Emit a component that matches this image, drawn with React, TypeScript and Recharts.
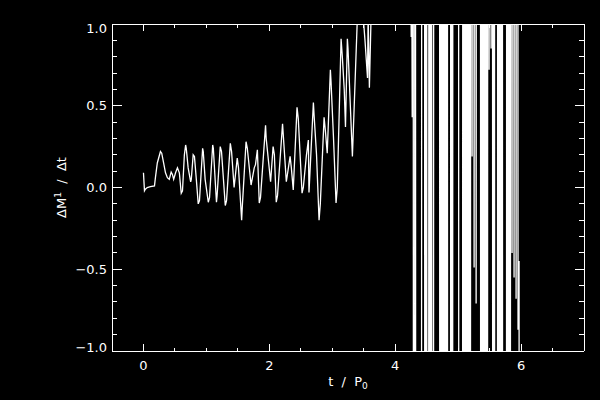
import { LineChart, Line, XAxis, YAxis } from "recharts";

// t / P0 and dM/dt for the smooth part of the run
const tEarly = [
  0, 0.016, 0.03, 0.06, 0.11, 0.175, 0.19, 0.22, 0.27, 0.29, 0.32, 0.35, 0.38,
  0.41, 0.44, 0.46, 0.48, 0.51, 0.54, 0.57, 0.6, 0.62, 0.65, 0.67, 0.68, 0.71,
  0.75, 0.76, 0.79, 0.81, 0.84, 0.87, 0.89, 0.94, 0.95, 0.98, 1.03, 1.05, 1.1,
  1.11, 1.16, 1.17, 1.22, 1.24, 1.3, 1.32, 1.38, 1.4, 1.44, 1.49, 1.51, 1.56,
  1.57, 1.63, 1.65, 1.71, 1.76, 1.78, 1.81, 1.84, 1.86, 1.94, 1.95, 2.02, 2.06,
  2.08, 2.11, 2.13, 2.21, 2.22, 2.27, 2.33, 2.35, 2.38, 2.44, 2.46, 2.52, 2.54,
  2.59, 2.62, 2.63, 2.7, 2.71, 2.75, 2.79, 2.81, 2.87, 2.89, 2.92, 2.97, 2.98,
  3.02, 3.06, 3.08, 3.14, 3.16, 3.19, 3.21, 3.24, 3.25, 3.32, 3.33, 3.4, 3.44,
  3.49, 3.52, 3.56, 3.57, 3.59, 3.62, 3.65, 3.75, 3.9, 4.05, 4.18, 4.246, 4.254,
  4.262, 4.27, 4.286,
];
const vEarly = [
  0.09, -0.02, -0.01, 0, 0.005, 0.01, 0.06, 0.15, 0.22, 0.21, 0.15, 0.09, 0.06,
  0.05, 0.095, 0.08, 0.05, 0.09, 0.12, 0.09, -0.035, -0.02, 0.2, 0.26, 0.24,
  0.12, 0.035, 0.05, 0.2, 0.19, 0.05, -0.1, -0.08, 0.24, 0.22, 0.05, -0.09,
  -0.06, 0.26, 0.24, -0.09, -0.05, 0.25, 0.22, -0.11, -0.08, 0.27, 0.22, 0,
  0.18, 0.12, -0.2, -0.12, 0.28, 0.24, 0.015, 0.12, 0.14, 0.23, -0.095, -0.06,
  0.38, 0.3, 0.035, 0.25, 0.2, -0.09, -0.05, 0.39, 0.33, 0.035, 0.19, 0.12,
  -0.015, 0.49, 0.42, -0.035, 0, 0.2, 0.29, -0.03, 0.52, 0.45, 0.2, -0.2, -0.1,
  0.43, 0.35, 0.21, 0.72, 0.65, 0.3, -0.095, 0, 0.91, 0.8, 0.6, 0.37, 0.91,
  0.85, 0.19, 0.3, 1.05, 1.2, 1.05, 0.9, 0.67, 1.05, 0.61, 1.1, 1.6, 2.4, 3.1,
  2.7, 3.4, 1.5, 0.92, 1.6, 0.43, 1.8,
];

// the unstable burst after t ~ 4.3
const tBurst = [
  4.302, 4.317, 4.333, 4.413, 4.429, 4.46, 4.476, 4.492, 4.508, 4.524, 4.54,
  4.556, 4.571, 4.587, 4.603, 4.619, 4.698, 4.714, 4.73, 4.746, 4.762, 4.778,
  4.794, 4.81, 4.825, 4.841, 4.873, 4.889, 4.905, 4.921, 5.0, 5.016, 5.063,
  5.079, 5.095, 5.111, 5.127, 5.143, 5.159, 5.175, 5.19, 5.206, 5.222, 5.238,
  5.254, 5.27, 5.286, 5.302, 5.349, 5.365, 5.381, 5.397, 5.413, 5.429, 5.444,
  5.46, 5.476, 5.492, 5.508, 5.524, 5.54, 5.556, 5.571, 5.587, 5.619, 5.635,
  5.651, 5.667, 5.683, 5.698, 5.714, 5.762, 5.778, 5.794, 5.81, 5.825, 5.841,
  5.857, 5.873, 5.889, 5.905, 5.921, 5.937, 5.952, 5.968, 5.984,
];
const vBurst = [
  -14, 12, -16, -11, 15, 13, -12, 17, -9, -15, 11, -13, 16, -10, -12, 14, 16,
  -13, 12, -17, 14, -11, 15, -14, 10, -16, -12, 13, -15, 11, 14, -12, -16, 12,
  -14, 15, -11, 13, -17, 12, -13, 16, 0.19, 14, -0.49, 12, -0.71, 15, 13, -14,
  11, -15, 16, -12, 14, -13, 12, 0.72, 15, 0.85, 13, -14, 12, -11, -13, 15,
  -12, 14, -16, 11, -15, -12, 13, -14, 16, -11, 15, -0.4, 14, -0.55, 12, -0.68,
  16, -0.87, -0.45, -12,
];

const xTicks = [0, 0.5, 1, 1.5, 2, 2.5, 3, 3.5, 4, 4.5, 5, 5.5, 6, 6.5];
const yTicks = [
  -1, -0.9, -0.8, -0.7, -0.6, -0.5, -0.4, -0.3, -0.2, -0.1, 0, 0.1, 0.2, 0.3,
  0.4, 0.5, 0.6, 0.7, 0.8, 0.9, 1,
];

const data = [...tEarly, ...tBurst].map((t, i) => ({
  t,
  v: i < vEarly.length ? vEarly[i] : vBurst[i - vEarly.length],
}));

const isMajorX = (v: number) => v % 2 === 0;
const isMajorY = (v: number) => Math.abs(v * 2 - Math.round(v * 2)) < 1e-6;
const fmtY = (v: number) => (v < 0 ? "\u2212" : "") + Math.abs(v).toFixed(1);

const crisp = { shapeRendering: "crispEdges" as const };

const BottomTick = (props: any) => {
  const { x, y, payload } = props;
  const major = isMajorX(payload.value);
  return (
    <g>
      <line x1={x} y1={y} x2={x} y2={y - (major ? 7 : 3.5)} stroke="#fff" style={crisp} />
      {major && (
        <text x={x} y={y + 19} textAnchor="middle" fill="#fff" fontSize={13}>
          {payload.value}
        </text>
      )}
    </g>
  );
};

const TopTick = (props: any) => {
  const { x, y, payload } = props;
  const major = isMajorX(payload.value);
  return (
    <line x1={x} y1={y} x2={x} y2={y + (major ? 7 : 3.5)} stroke="#fff" style={crisp} />
  );
};

const LeftTick = (props: any) => {
  const { x, y, payload } = props;
  const v = payload.value;
  const major = isMajorY(v);
  const shift = v === 1 ? 4 : v === -1 ? -4 : 0;
  return (
    <g>
      <line x1={x} y1={y} x2={x + (major ? 9.5 : 5)} y2={y} stroke="#fff" style={crisp} />
      {major && (
        <text x={x - 5} y={y + shift + 4.7} textAnchor="end" fill="#fff" fontSize={13}>
          {fmtY(v)}
        </text>
      )}
    </g>
  );
};

const RightTick = (props: any) => {
  const { x, y, payload } = props;
  const major = isMajorY(payload.value);
  return (
    <line x1={x} y1={y} x2={x - (major ? 9.5 : 5)} y2={y} stroke="#fff" style={crisp} />
  );
};

const XTitle = (props: any) => {
  const { viewBox } = props;
  return (
    <text
      x={viewBox.x + viewBox.width / 2}
      y={viewBox.y + 35}
      textAnchor="middle"
      fill="#fff"
      fontSize={13}
      style={{ whiteSpace: "pre" }}
    >
      {"t  /  P"}
      <tspan dy={3} fontSize={9}>0</tspan>
    </text>
  );
};

const YTitle = (props: any) => {
  const { viewBox } = props;
  const cy = viewBox.y + viewBox.height / 2;
  return (
    <text
      x={66}
      y={cy}
      transform={`rotate(-90 66 ${cy})`}
      textAnchor="middle"
      fill="#fff"
      fontSize={13}
      style={{ whiteSpace: "pre" }}
    >
      {"\u0394M"}
      <tspan dy={-5} fontSize={9}>1</tspan>
      <tspan dy={5}>{"  /  \u0394t"}</tspan>
    </text>
  );
};

const axisLine = { stroke: "#fff", strokeWidth: 1, shapeRendering: "crispEdges" };

export default function App() {
  return (
    <div
      style={{
        position: "fixed",
        inset: 0,
        background: "#000",
        fontFamily: '"DejaVu Sans", sans-serif',
      }}
    >
      <LineChart
        width={600}
        height={400}
        data={data}
        margin={{ top: 23, right: 15, bottom: 0, left: 0 }}
      >
        <XAxis
          dataKey="t"
          type="number"
          domain={[-0.5, 7]}
          allowDataOverflow
          ticks={xTicks}
          interval={0}
          tickSize={0}
          tickMargin={0}
          tickLine={false}
          axisLine={axisLine}
          tick={<BottomTick />}
          height={49}
          label={<XTitle />}
        />
        <XAxis
          xAxisId="top"
          orientation="top"
          dataKey="t"
          type="number"
          domain={[-0.5, 7]}
          allowDataOverflow
          ticks={xTicks}
          interval={0}
          tickSize={0}
          tickMargin={0}
          tickLine={false}
          axisLine={axisLine}
          tick={<TopTick />}
          height={1}
        />
        <YAxis
          type="number"
          domain={[-1, 1]}
          allowDataOverflow
          ticks={yTicks}
          interval={0}
          tickSize={0}
          tickMargin={0}
          tickLine={false}
          axisLine={axisLine}
          tick={<LeftTick />}
          width={112}
          label={<YTitle />}
        />
        <YAxis
          yAxisId="right"
          orientation="right"
          type="number"
          domain={[-1, 1]}
          allowDataOverflow
          ticks={yTicks}
          interval={0}
          tickSize={0}
          tickMargin={0}
          tickLine={false}
          axisLine={axisLine}
          tick={<RightTick />}
          width={1}
        />
        {/* invisible copy so the mirrored top/right axes get drawn */}
        <Line
          xAxisId="top"
          yAxisId="right"
          dataKey="v"
          stroke="none"
          dot={false}
          activeDot={false}
          isAnimationActive={false}
        />
        <Line
          dataKey="v"
          type="linear"
          stroke="#fff"
          strokeWidth={1.3}
          dot={false}
          isAnimationActive={false}
        />
      </LineChart>
    </div>
  );
}
